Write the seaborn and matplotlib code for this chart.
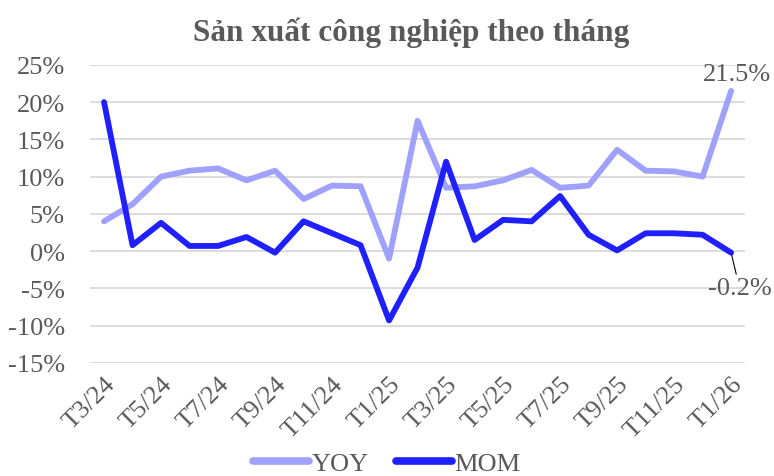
import numpy as np
import pandas as pd
import matplotlib
matplotlib.use("Agg")
import matplotlib.pyplot as plt
import seaborn as sns
from matplotlib.lines import Line2D

# data
months = ["T3/24", "T4/24", "T5/24", "T6/24", "T7/24", "T8/24", "T9/24", "T10/24",
          "T11/24", "T12/24", "T1/25", "T2/25", "T3/25", "T4/25", "T5/25", "T6/25",
          "T7/25", "T8/25", "T9/25", "T10/25", "T11/25", "T12/25", "T1/26"]
yoy = [4.0, 6.3, 10.0, 10.8, 11.1, 9.5, 10.8, 7.0, 8.8, 8.7, -1.0, 17.5,
       8.5, 8.7, 9.5, 10.9, 8.5, 8.8, 13.6, 10.8, 10.7, 10.0, 21.5]
mom = [20.0, 0.8, 3.8, 0.7, 0.7, 1.9, -0.2, 4.0, 2.4, 0.8, -9.3, -2.2,
       12.0, 1.5, 4.2, 4.0, 7.4, 2.2, 0.1, 2.4, 2.4, 2.2, -0.2]
series_names = ["YOY", "MOM"]
colors = {"YOY": "#A0A0FF", "MOM": "#2020FF"}

df = pd.DataFrame({"month": months, "YOY": yoy, "MOM": mom})
df["idx"] = np.arange(len(df))
long_df = df.melt(id_vars=["month", "idx"], value_vars=series_names,
                  var_name="series", value_name="value")

sns.set_style("white")
plt.rcParams["font.family"] = ["Liberation Serif", "DejaVu Serif"]
gray = "#595959"
fs = 19

fig, ax = plt.subplots(figsize=(7.74, 4.77), dpi=100)
fig.subplots_adjust(left=0.116, right=0.963, top=0.862, bottom=0.237)

sns.lineplot(data=long_df, x="idx", y="value", hue="series", palette=colors,
             hue_order=series_names, linewidth=4.2, ax=ax, legend=False,
             solid_capstyle="round", solid_joinstyle="round")

ax.set_xlim(-0.5, len(months) - 0.5)
ax.set_ylim(-15, 25)
ax.set_yticks(range(-15, 26, 5))
ax.set_yticklabels([f"{v}%" for v in range(-15, 26, 5)], fontsize=fs, color=gray)
ax.set_xticks(df["idx"][::2])
ax.set_xticklabels(months[::2], rotation=45, ha="right", va="top",
                   rotation_mode="anchor", fontsize=fs, color=gray)
ax.tick_params(axis="both", length=0)
ax.tick_params(axis="x", pad=7)
ax.tick_params(axis="y", pad=18)
ax.grid(axis="y", color="#D9D9D9", linewidth=1.3)
ax.set_axisbelow(True)
for s in ax.spines.values():
    s.set_visible(False)
ax.set_xlabel("")
ax.set_ylabel("")

fig.text(0.531, 0.931, "Sản xuất công nghiệp theo tháng", fontsize=22.5,
         fontweight="bold", color=gray, ha="center", va="center")

# labels on the last points
last = len(months) - 1
ax.annotate(f"{yoy[-1]}%", xy=(last, yoy[-1]), xytext=(last + 0.2, yoy[-1] + 2.3),
            ha="center", va="center", fontsize=fs, color=gray)
ax.annotate(f"{mom[-1]}%", xy=(last, mom[-1]), xytext=(last + 0.3, mom[-1] - 4.8),
            ha="center", va="center", fontsize=fs, color=gray,
            arrowprops=dict(arrowstyle="-", color="black", lw=0.8,
                            shrinkA=16, shrinkB=1))

handles = [Line2D([0], [0], color=colors[n], lw=5.5, solid_capstyle="round") for n in series_names]
fig.legend(handles, series_names, loc="lower center", bbox_to_anchor=(0.5, -0.048),
           ncol=2, frameon=False, fontsize=fs, labelcolor=gray, handlelength=2.1,
           handletextpad=0.1, columnspacing=1.05)

fig.savefig("out.png", dpi=100)
